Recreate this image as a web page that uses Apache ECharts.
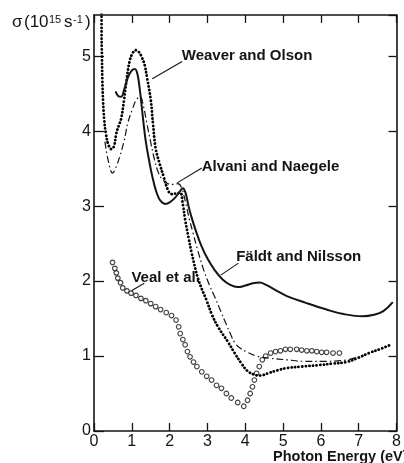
<!DOCTYPE html>
<html><head><meta charset="utf-8">
<script src="https://cdn.jsdelivr.net/npm/echarts@6/dist/echarts.min.js"></script>
<style>html,body{margin:0;padding:0;background:#fff}#c{width:404px;height:463px}</style>
</head><body><div id="c"></div>
<script>
// ---- data (photon energy in eV, sigma in 1e15 s^-1) ----
const xTicks = [0, 1, 2, 3, 4, 5, 6, 7, 8];
const yTicks = [0, 1, 2, 3, 4, 5];

const weaverOlson = [[0.20,5.62],[0.20,5.3],[0.21,5.0],[0.22,4.7],[0.24,4.4],[0.27,4.15],[0.32,3.95],[0.38,3.82],[0.46,3.76],[0.53,3.8],[0.59,3.97],[0.66,4.08],[0.72,4.17],[0.79,4.4],[0.85,4.64],[0.94,4.93],[1.02,5.04],[1.1,5.08],[1.18,5.06],[1.27,4.98],[1.34,4.88],[1.41,4.69],[1.5,4.42],[1.56,4.1],[1.63,3.77],[1.74,3.56],[1.85,3.38],[1.95,3.22],[2.05,3.16],[2.18,3.17],[2.28,3.18],[2.35,3.02],[2.41,2.82],[2.5,2.58],[2.58,2.38],[2.76,2.02],[2.97,1.75],[3.12,1.55],[3.28,1.39],[3.54,1.19],[3.72,1.04],[3.9,0.9],[4.06,0.8],[4.25,0.75],[4.4,0.74],[4.6,0.77],[4.85,0.81],[5.1,0.84],[5.5,0.86],[5.96,0.88],[6.3,0.9],[6.67,0.92],[7.0,0.98],[7.27,1.04],[7.6,1.1],[7.88,1.16]];

const alvaniNaegele = [[0.29,3.86],[0.38,3.6],[0.49,3.44],[0.58,3.52],[0.68,3.66],[0.8,3.88],[0.9,4.12],[1.02,4.3],[1.12,4.42],[1.22,4.46],[1.3,4.35],[1.4,4.1],[1.5,3.85],[1.6,3.62],[1.7,3.45],[1.8,3.36],[1.95,3.3],[2.1,3.29],[2.22,3.3],[2.32,3.24],[2.42,3.05],[2.52,2.83],[2.62,2.64],[2.72,2.45],[2.9,2.15],[3.05,1.95],[3.2,1.78],[3.35,1.6],[3.5,1.42],[3.62,1.28],[3.72,1.18],[3.85,1.11],[4.06,1.05],[4.3,1.0],[4.66,0.97],[5.1,0.95],[5.54,0.93],[6.0,0.93],[6.58,0.94],[6.93,0.98]];

const faldtNilsson = [[0.57,4.53],[0.64,4.47],[0.72,4.46],[0.8,4.56],[0.9,4.72],[1.0,4.81],[1.08,4.83],[1.15,4.76],[1.22,4.52],[1.3,4.15],[1.37,3.86],[1.46,3.6],[1.54,3.4],[1.63,3.22],[1.72,3.1],[1.8,3.05],[1.89,3.03],[2.0,3.05],[2.12,3.1],[2.25,3.18],[2.35,3.24],[2.42,3.18],[2.5,3.0],[2.58,2.85],[2.7,2.66],[2.84,2.47],[3.0,2.3],[3.2,2.14],[3.4,2.02],[3.6,1.95],[3.8,1.92],[4.0,1.94],[4.2,1.97],[4.38,1.98],[4.55,1.95],[4.8,1.88],[5.1,1.8],[5.6,1.71],[6.15,1.62],[6.6,1.56],[7.1,1.53],[7.4,1.55],[7.65,1.6],[7.9,1.72]];

const vealEtAl = [[0.49,2.25],[0.55,2.17],[0.59,2.11],[0.63,2.04],[0.70,1.98],[0.76,1.91],[0.87,1.87],[0.98,1.84],[1.11,1.81],[1.24,1.77],[1.37,1.74],[1.50,1.70],[1.63,1.66],[1.76,1.62],[1.91,1.58],[2.05,1.54],[2.17,1.48],[2.24,1.39],[2.28,1.30],[2.35,1.22],[2.41,1.15],[2.47,1.06],[2.54,0.99],[2.63,0.92],[2.72,0.86],[2.85,0.79],[2.98,0.73],[3.11,0.68],[3.24,0.61],[3.37,0.57],[3.50,0.50],[3.63,0.44],[3.80,0.38],[3.96,0.33],[4.06,0.41],[4.13,0.50],[4.19,0.59],[4.24,0.68],[4.30,0.77],[4.37,0.86],[4.45,0.95],[4.54,1.00],[4.67,1.04],[4.80,1.06],[4.93,1.07],[5.06,1.09],[5.19,1.09],[5.36,1.09],[5.49,1.08],[5.63,1.07],[5.76,1.07],[5.89,1.06],[6.02,1.05],[6.15,1.05],[6.32,1.04],[6.49,1.04]];

const annotations = [
  {text: 'Weaver and Olson', at: [2.32, 5.01], from: [2.33, 4.93], to: [1.54, 4.70]},
  {text: 'Alvani and Naegele', at: [2.85, 3.52], from: [2.85, 3.51], to: [2.2, 3.31]},
  {text: 'F\u00e4ldt and Nilsson', at: [3.76, 2.32], from: [3.82, 2.24], to: [3.35, 2.08]},
  {text: 'Veal et al.', at: [0.99, 2.04], from: [1.33, 1.97], to: [0.99, 1.87]}
];
const xAxisTitle = 'Photon Energy (eV)';

// ---- chart ----
const INK = '#141414';
const FONT = 'Liberation Sans, Arial, sans-serif';
const chart = echarts.init(document.getElementById('c'), null, {renderer: 'canvas'});

function axisBase(extra) {
  return Object.assign({
    type: 'value',
    axisLine: {show: true, onZero: false, lineStyle: {color: INK, width: 1.6}},
    axisTick: {show: true, inside: true, length: 8, lineStyle: {color: INK, width: 1.3}},
    splitLine: {show: false},
    axisLabel: {show: false}
  }, extra);
}

chart.setOption({
  animation: false,
  backgroundColor: '#fff',
  grid: {left: 94, right: 4, top: 15, bottom: 32, containLabel: false},
  xAxis: [
    axisBase({min: 0, max: 8, interval: 1, position: 'bottom',
      axisLabel: {show: true, fontSize: 16, color: INK, margin: 3, fontFamily: FONT,
        formatter: v => xTicks.indexOf(v) >= 0 ? String(v) : ''}}),
    axisBase({min: 0, max: 8, interval: 1, position: 'top'})
  ],
  yAxis: [
    axisBase({min: 0, max: 5.55, interval: 1, position: 'left',
      axisTick: {show: true, inside: true, length: 10, lineStyle: {color: INK, width: 1.3}},
      axisLabel: {show: true, showMaxLabel: false, fontSize: 16, color: INK, margin: 3, fontFamily: FONT,
        formatter: v => yTicks.indexOf(v) >= 0 ? String(v) : ''}}),
    axisBase({min: 0, max: 5.55, interval: 1, position: 'right'})
  ],
  series: [
    {type: 'line', name: 'Weaver and Olson', data: weaverOlson, smooth: 0.4, showSymbol: false,
      lineStyle: {color: '#000', width: 2.8, type: [0.1, 3.5], cap: 'round'}},
    {type: 'line', name: 'Alvani and Naegele', data: alvaniNaegele, smooth: 0.4, showSymbol: false,
      lineStyle: {color: INK, width: 1.2, type: [7, 3, 1.5, 3]}},
    {type: 'line', name: 'F\u00e4ldt and Nilsson', data: faldtNilsson, smooth: 0.4, showSymbol: false,
      lineStyle: {color: INK, width: 2}},
    {type: 'scatter', name: 'Veal et al.', data: vealEtAl, symbol: 'circle', symbolSize: 4.6,
      itemStyle: {color: '#fff', borderColor: INK, borderWidth: 1.2}}
  ]
});

function px(p) { return chart.convertToPixel({xAxisIndex: 0, yAxisIndex: 0}, p); }

const g = [];
annotations.forEach(a => {
  const t = px(a.at), f = px(a.from), e = px(a.to);
  g.push({type: 'text', x: t[0], y: t[1], style: {text: a.text, fill: INK,
    font: 'bold 15px ' + FONT, textAlign: 'left', textVerticalAlign: 'middle'}});
  g.push({type: 'line', shape: {x1: f[0], y1: f[1], x2: e[0], y2: e[1]},
    style: {stroke: INK, lineWidth: 1.1}});
});
// y-axis title  sigma(10^15 s^-1)
const yt = [
  {t: '\u03c3', x: 12, y: 31, s: 17},
  {t: '(10', x: 24, y: 31, s: 17},
  {t: '15', x: 49, y: 25, s: 11},
  {t: 's', x: 64, y: 31, s: 17},
  {t: '-1', x: 73, y: 25, s: 11},
  {t: ')', x: 85, y: 31, s: 17}
];
yt.forEach(o => g.push({type: 'text', x: o.x, y: o.y, style: {text: o.t, fill: INK,
  font: o.s + 'px ' + FONT, textAlign: 'left', textVerticalAlign: 'bottom'}}));
g.push({type: 'text', x: 273, y: 457, style: {text: xAxisTitle, fill: INK,
  font: 'bold 14.5px ' + FONT, textAlign: 'left', textVerticalAlign: 'middle'}});
chart.setOption({graphic: g});
</script>
</body></html>
